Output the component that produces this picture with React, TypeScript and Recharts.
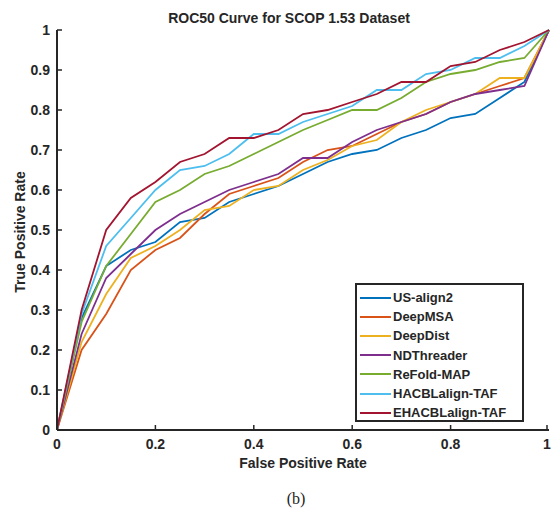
import React from 'react';
import { LineChart, Line, XAxis, YAxis } from 'recharts';

// false positive rate sample points
const fpr = [0, 0.05, 0.1, 0.15, 0.2, 0.25, 0.3, 0.35, 0.4, 0.45, 0.5, 0.55, 0.6, 0.65, 0.7, 0.75, 0.8, 0.85, 0.9, 0.95, 1];

// true positive rate per method
const usAlign2 = [0, 0.28, 0.41, 0.45, 0.47, 0.52, 0.53, 0.57, 0.59, 0.61, 0.64, 0.67, 0.69, 0.7, 0.73, 0.75, 0.78, 0.79, 0.83, 0.87, 1];
const deepMSA = [0, 0.2, 0.29, 0.4, 0.45, 0.48, 0.54, 0.59, 0.61, 0.63, 0.67, 0.7, 0.71, 0.74, 0.77, 0.79, 0.82, 0.84, 0.86, 0.88, 1];
const deepDist = [0, 0.22, 0.34, 0.43, 0.46, 0.5, 0.55, 0.56, 0.6, 0.61, 0.65, 0.675, 0.71, 0.725, 0.77, 0.8, 0.82, 0.84, 0.88, 0.88, 1];
const ndThreader = [0, 0.24, 0.38, 0.44, 0.5, 0.54, 0.57, 0.6, 0.62, 0.64, 0.68, 0.68, 0.72, 0.75, 0.77, 0.79, 0.82, 0.84, 0.85, 0.86, 1];
const reFoldMap = [0, 0.27, 0.41, 0.49, 0.57, 0.6, 0.64, 0.66, 0.69, 0.72, 0.75, 0.775, 0.8, 0.8, 0.83, 0.87, 0.89, 0.9, 0.92, 0.93, 1];
const hacbTaf = [0, 0.29, 0.46, 0.53, 0.6, 0.65, 0.66, 0.69, 0.74, 0.74, 0.77, 0.79, 0.81, 0.85, 0.85, 0.89, 0.9, 0.93, 0.93, 0.96, 1];
const ehacbTaf = [0, 0.3, 0.5, 0.58, 0.62, 0.67, 0.69, 0.73, 0.73, 0.75, 0.79, 0.8, 0.82, 0.84, 0.87, 0.87, 0.91, 0.92, 0.95, 0.97, 1];

const xTicks = [0, 0.2, 0.4, 0.6, 0.8, 1];
const yTicks = [0, 0.1, 0.2, 0.3, 0.4, 0.5, 0.6, 0.7, 0.8, 0.9, 1];

const series = [
  { key: 'usAlign2', name: 'US-align2', values: usAlign2, color: '#0072BD' },
  { key: 'deepMSA', name: 'DeepMSA', values: deepMSA, color: '#D95319' },
  { key: 'deepDist', name: 'DeepDist', values: deepDist, color: '#EDB120' },
  { key: 'ndThreader', name: 'NDThreader', values: ndThreader, color: '#7E2F8E' },
  { key: 'reFoldMap', name: 'ReFold-MAP', values: reFoldMap, color: '#77AC30' },
  { key: 'hacbTaf', name: 'HACBLalign-TAF', values: hacbTaf, color: '#4DBEEE' },
  { key: 'ehacbTaf', name: 'EHACBLalign-TAF', values: ehacbTaf, color: '#A2142F' },
];

const rows = fpr.map((x, i) => {
  const row: Record<string, number> = { fpr: x };
  series.forEach((s) => {
    row[s.key] = s.values[i];
  });
  return row;
});

const FONT = '"Liberation Sans", Arial, sans-serif';
const AXIS = '#262626';

const YTick = ({ x, y, payload }: any) => (
  <g>
    <line x1={x} x2={x + 5} y1={y} y2={y} stroke={AXIS} strokeWidth={1.5} />
    <text x={x - 7} y={y} dy={5} textAnchor="end" fontFamily={FONT} fontWeight="bold" fontSize={14} fill={AXIS}>
      {payload.value}
    </text>
  </g>
);

const XTick = ({ x, y, payload }: any) => (
  <g>
    <line x1={x} x2={x} y1={y} y2={y - 5} stroke={AXIS} strokeWidth={1.5} />
    <text x={x} y={y + 19} textAnchor="middle" fontFamily={FONT} fontWeight="bold" fontSize={14} fill={AXIS}>
      {payload.value}
    </text>
  </g>
);

// legend box sits inside the lower right of the plot
const LegendBox = () => (
  <div
    style={{
      position: 'absolute',
      left: 355,
      top: 283,
      border: `2px solid ${AXIS}`,
      background: '#fff',
      width: 169,
      height: 139,
      boxSizing: 'border-box',
      padding: '3px 0 0 3px',
      fontFamily: FONT,
      fontWeight: 'bold',
      fontSize: 13,
      color: AXIS,
    }}
  >
    {series.map((s) => (
      <div key={s.key} style={{ display: 'flex', alignItems: 'center', height: 19.2 }}>
        <span style={{ display: 'inline-block', width: 31, height: 2, background: s.color, marginRight: 2 }} />
        <span>{s.name}</span>
      </div>
    ))}
  </div>
);

export default function App() {
  return (
    <div style={{ position: 'absolute', left: 0, top: 0, width: 551, height: 512, background: '#fff' }}>
      <div
        style={{
          position: 'absolute',
          left: 0,
          width: 578,
          top: 10,
          textAlign: 'center',
          fontFamily: FONT,
          fontWeight: 'bold',
          fontSize: 14,
          color: AXIS,
        }}
      >
        ROC50 Curve for SCOP 1.53 Dataset
      </div>
      <LineChart width={551} height={512} data={rows} margin={{ top: 30, right: 2, bottom: 42, left: 0 }}>
        <XAxis
          dataKey="fpr"
          type="number"
          domain={[0, 1]}
          ticks={xTicks}
          height={40}
          tickSize={0}
          tickMargin={0}
          tick={<XTick />}
          axisLine={{ stroke: AXIS, strokeWidth: 2 }}
          tickLine={false}
        />
        <YAxis
          type="number"
          domain={[0, 1]}
          ticks={yTicks}
          width={57}
          tickSize={0}
          tickMargin={0}
          tick={<YTick />}
          axisLine={{ stroke: AXIS, strokeWidth: 2 }}
          tickLine={false}
        />
        {series.map((s) => (
          <Line
            key={s.key}
            dataKey={s.key}
            name={s.name}
            stroke={s.color}
            strokeWidth={1.8}
            dot={false}
            isAnimationActive={false}
          />
        ))}
      </LineChart>
      <LegendBox />
      <div
        style={{
          position: 'absolute',
          left: 57,
          width: 492,
          top: 455,
          textAlign: 'center',
          fontFamily: FONT,
          fontWeight: 'bold',
          fontSize: 14,
          color: AXIS,
        }}
      >
        False Positive Rate
      </div>
      <div
        style={{
          position: 'absolute',
          left: 20,
          top: 232,
          transform: 'translate(-50%, -50%) rotate(-90deg)',
          whiteSpace: 'nowrap',
          fontFamily: FONT,
          fontWeight: 'bold',
          fontSize: 14,
          color: AXIS,
        }}
      >
        True Positive Rate
      </div>
      <div
        style={{
          position: 'absolute',
          left: 0,
          width: 592,
          top: 489,
          textAlign: 'center',
          fontFamily: '"Liberation Serif", "Times New Roman", serif',
          fontSize: 16,
          lineHeight: '20px',
          color: '#222',
        }}
      >
        (b)
      </div>
    </div>
  );
}
